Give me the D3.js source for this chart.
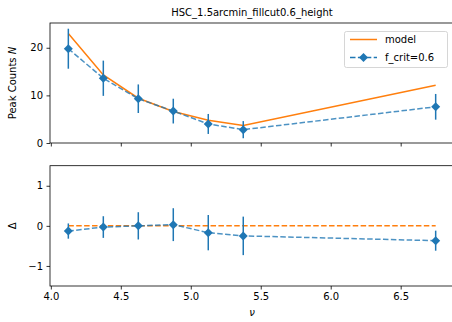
<!DOCTYPE html>
<html>
<head>
<meta charset="utf-8">
<script src="https://cdn.jsdelivr.net/npm/d3@7"></script>
<style>
body { margin: 0; background: #fff; }
text { font-family: "DejaVu Sans", sans-serif; fill: #000; }
</style>
</head>
<body>
<svg id="stage" width="452" height="322"></svg>
<script>
// data
var nu = [4.125, 4.375, 4.625, 4.875, 5.125, 5.375, 6.75];
var counts = [19.8, 13.6, 9.3, 6.7, 4.0, 2.8, 7.6];
var countsErr = [4.2, 3.7, 3.0, 2.6, 2.1, 1.8, 2.7];
var model = [23.0, 14.3, 9.4, 6.6, 4.8, 3.7, 12.15];
var delta = [-0.13, -0.03, 0.0, 0.03, -0.17, -0.25, -0.37];
var deltaErr = [0.19, 0.27, 0.34, 0.41, 0.44, 0.48, 0.25];
var xTicks = [4.0, 4.5, 5.0, 5.5, 6.0, 6.5];
var topYTicks = [0, 10, 20];
var botYTicks = [-1, 0, 1];

var blue = "#1f77b4", orange = "#ff7f0e";

var svg = d3.select("#stage");

var left = 50, right = 454;
var x = d3.scaleLinear().domain([3.994, 6.881]).range([left, right]);
var yTop = d3.scaleLinear().domain([0, 25.2]).range([143, 23]);
var yBot = d3.scaleLinear().domain([-1.5, 1.5]).range([286, 165.7]);

var pts = nu.map(function(v, i){
  return {x: v, n: counts[i], e: countsErr[i], m: model[i], d: delta[i], de: deltaErr[i]};
});

function diamond(g, cx, cy){
  g.append("path")
    .attr("d", "M" + cx + "," + (cy - 4.5) + "L" + (cx + 4.5) + "," + cy + "L" + cx + "," + (cy + 4.5) + "L" + (cx - 4.5) + "," + cy + "Z")
    .attr("fill", blue);
}

function drawAxes(y, yTicks, top, bottom, showXLabels){
  var g = svg.append("g");
  // x axis
  var xa = d3.axisBottom(x).tickValues(xTicks).tickSize(3.5).tickPadding(3.5)
    .tickFormat(showXLabels ? d3.format(".1f") : function(){ return ""; });
  g.append("g").attr("transform", "translate(0," + bottom + ")").call(xa);
  var ya = d3.axisLeft(y).tickValues(yTicks).tickSize(3.5).tickPadding(3.5)
    .tickFormat(function(d){ return d < 0 ? "\u2212" + Math.abs(d) : d; });
  g.append("g").attr("transform", "translate(" + left + ",0)").call(ya);
  g.selectAll(".domain").remove();
  g.selectAll(".tick line").attr("stroke", "#000").attr("stroke-width", 0.8);
  g.selectAll(".tick text").attr("font-size", 10).attr("fill", "#000");
  // spines
  g.append("rect").attr("x", left).attr("y", top).attr("width", right - left).attr("height", bottom - top)
    .attr("fill", "none").attr("stroke", "#000").attr("stroke-width", 0.8);
}

// ---- top panel
drawAxes(yTop, topYTicks, 23, 143, false);

var lineTop = d3.line().x(function(d){ return x(d.x); });

svg.append("path").datum(pts)
  .attr("d", lineTop.y(function(d){ return yTop(d.m); }))
  .attr("fill", "none").attr("stroke", orange).attr("stroke-width", 1.5);

svg.append("path").datum(pts)
  .attr("d", d3.line().x(function(d){ return x(d.x); }).y(function(d){ return yTop(d.n); }))
  .attr("fill", "none").attr("stroke", blue).attr("stroke-width", 1.5)
  .attr("stroke-dasharray", "5.5,2.4").attr("opacity", 0.8);

var eTop = svg.append("g");
pts.forEach(function(d){
  eTop.append("line")
    .attr("x1", x(d.x)).attr("x2", x(d.x))
    .attr("y1", yTop(d.n - d.e)).attr("y2", yTop(d.n + d.e))
    .attr("stroke", blue).attr("stroke-width", 1.5);
  diamond(eTop, x(d.x), yTop(d.n));
});

// legend
var lg = svg.append("g");
lg.append("rect").attr("x", 344.5).attr("y", 31.5).attr("width", 103).attr("height", 36).attr("rx", 2)
  .attr("fill", "#fff").attr("fill-opacity", 0.8).attr("stroke", "#ccc").attr("stroke-width", 0.8);
lg.append("line").attr("x1", 350).attr("x2", 377).attr("y1", 39.5).attr("y2", 39.5)
  .attr("stroke", orange).attr("stroke-width", 1.5);
lg.append("text").attr("x", 385).attr("y", 43).attr("font-size", 10).text("model");
lg.append("line").attr("x1", 350).attr("x2", 377).attr("y1", 57.5).attr("y2", 57.5)
  .attr("stroke", blue).attr("stroke-width", 1.5).attr("stroke-dasharray", "5.5,2.4");
diamond(lg, 363.5, 57.5);
lg.append("text").attr("x", 385).attr("y", 61).attr("font-size", 10).text("f_crit=0.6");

// title
svg.append("text").attr("x", (left + right) / 2).attr("y", 16).attr("text-anchor", "middle")
  .attr("font-size", 10).text("HSC_1.5arcmin_fillcut0.6_height");

// y label top
var yl = svg.append("text").attr("transform", "translate(16,83) rotate(-90)")
  .attr("text-anchor", "middle").attr("font-size", 10);
yl.append("tspan").text("Peak Counts ");
yl.append("tspan").attr("font-style", "italic").text("N");

// ---- bottom panel
drawAxes(yBot, botYTicks, 165.7, 286, true);

svg.append("line")
  .attr("x1", x(nu[0])).attr("x2", x(nu[nu.length - 1]))
  .attr("y1", yBot(0)).attr("y2", yBot(0))
  .attr("stroke", orange).attr("stroke-width", 1.5).attr("stroke-dasharray", "5.5,2.4");

svg.append("path").datum(pts)
  .attr("d", d3.line().x(function(d){ return x(d.x); }).y(function(d){ return yBot(d.d); }))
  .attr("fill", "none").attr("stroke", blue).attr("stroke-width", 1.5)
  .attr("stroke-dasharray", "5.5,2.4").attr("opacity", 0.8);

var eBot = svg.append("g");
pts.forEach(function(d){
  eBot.append("line")
    .attr("x1", x(d.x)).attr("x2", x(d.x))
    .attr("y1", yBot(d.d - d.de)).attr("y2", yBot(d.d + d.de))
    .attr("stroke", blue).attr("stroke-width", 1.5);
  diamond(eBot, x(d.x), yBot(d.d));
});

svg.append("text").attr("transform", "translate(16," + yBot(0) + ") rotate(-90)")
  .attr("text-anchor", "middle").attr("font-size", 10).text("\u0394");

svg.append("text").attr("x", (left + right) / 2).attr("y", 316).attr("text-anchor", "middle")
  .attr("font-size", 10).attr("font-style", "italic").text("\u03bd");
</script>
</body>
</html>
